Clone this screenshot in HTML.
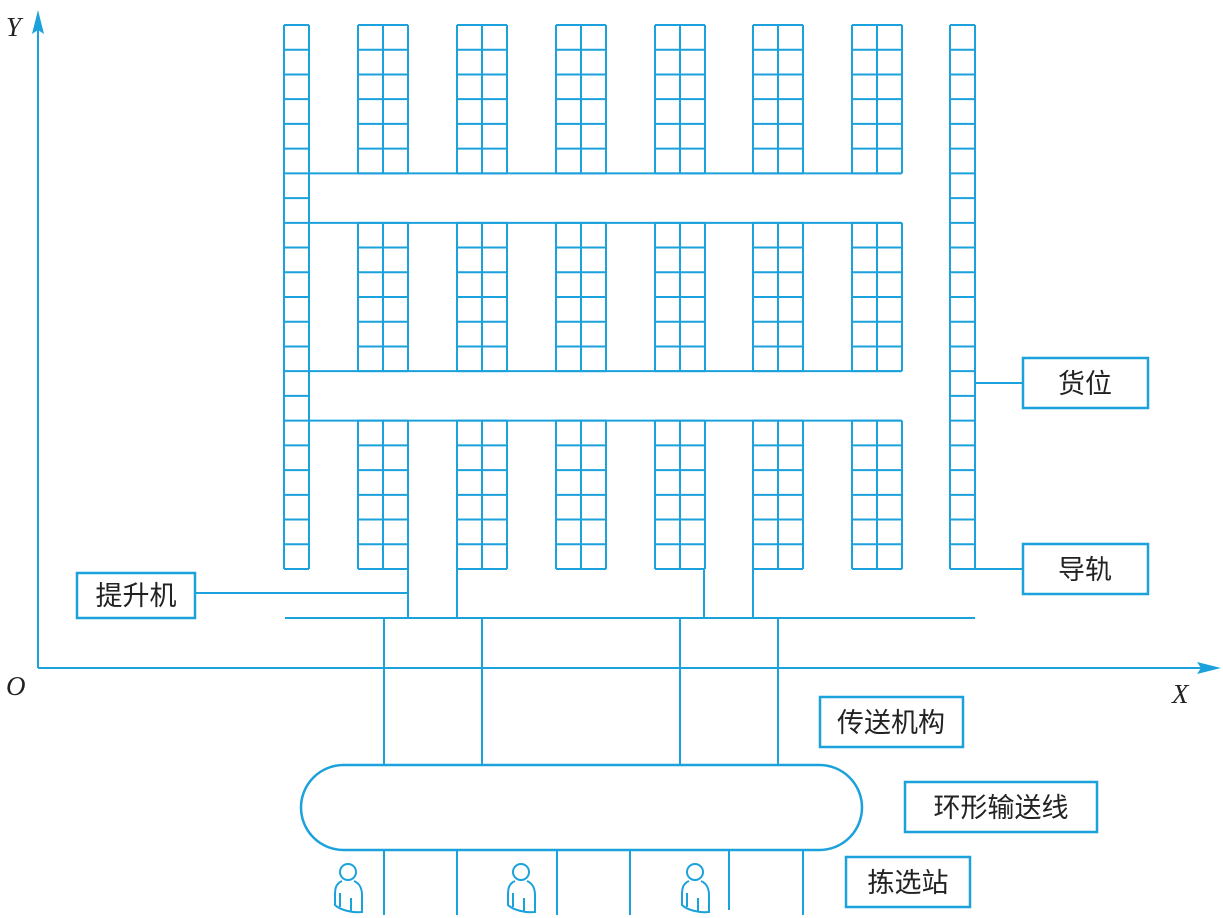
<!DOCTYPE html>
<html><head><meta charset="utf-8"><style>
html,body{margin:0;padding:0;background:#fff;}
svg{display:block;}
.cn{font-family:"Liberation Sans","Noto Sans CJK SC",sans-serif;}
.ax{font-family:"Liberation Serif",serif;font-style:italic;}
</style></head><body>
<svg id="s" width="1223" height="918" viewBox="0 0 1223 918" xmlns="http://www.w3.org/2000/svg">
<g id="g" stroke="#1ba1db" stroke-width="2" fill="none">
<line x1="38" y1="668" x2="38" y2="28"/>
<line x1="38" y1="668" x2="1205" y2="668"/>
<line x1="195" y1="593" x2="408" y2="593"/>
<line x1="408" y1="569" x2="408" y2="618"/>
<line x1="457" y1="569" x2="457" y2="618"/>
<line x1="704" y1="569" x2="704" y2="618"/>
<line x1="753" y1="569" x2="753" y2="618"/>
<line x1="285" y1="618" x2="975" y2="618"/>
<line x1="384" y1="618" x2="384" y2="765"/>
<line x1="482" y1="618" x2="482" y2="765"/>
<line x1="680" y1="618" x2="680" y2="765"/>
<line x1="778" y1="618" x2="778" y2="765"/>
<rect x="301" y="765" width="561" height="85" rx="42.5" ry="42.5" stroke-width="2.5"/>
<line x1="384" y1="850" x2="384" y2="915"/>
<line x1="457" y1="850" x2="457" y2="915"/>
<line x1="557" y1="850" x2="557" y2="915"/>
<line x1="630" y1="850" x2="630" y2="915"/>
<line x1="729" y1="850" x2="729" y2="910"/>
<line x1="803" y1="850" x2="803" y2="915"/>
<line x1="975" y1="383" x2="1023" y2="383"/>
<line x1="975" y1="569" x2="1023" y2="569"/>
<rect x="1023" y="358" width="125" height="50" stroke-width="2.5"/>
<rect x="1023" y="544" width="125" height="50" stroke-width="2.5"/>
<rect x="77" y="573" width="118" height="45" stroke-width="2.5"/>
<rect x="820" y="697" width="143" height="50" stroke-width="2.5"/>
<rect x="905" y="782" width="192" height="50" stroke-width="2.5"/>
<rect x="846" y="857" width="124" height="50" stroke-width="2.5"/>
</g>
<polygon points="38,10 32,34 38,30 44,34" fill="#1ba1db"/>
<polygon points="1221,668 1197,662 1201,668 1197,674" fill="#1ba1db"/>
<g class="ax" font-size="27" fill="#222">
<text x="6" y="36">Y</text>
<text x="6" y="695">O</text>
<text x="1172" y="703">X</text>
</g>
<g class="cn" font-size="27" fill="#222" text-anchor="middle">
<text x="1085" y="393">货位</text>
<text x="1085" y="579">导轨</text>
<text x="136" y="605">提升机</text>
<text x="891" y="732">传送机构</text>
<text x="1001" y="817">环形输送线</text>
<text x="908" y="892">拣选站</text>
</g>
</svg>
<script>
(function(){
var g=document.getElementById('g'),NS='http://www.w3.org/2000/svg';
function L(a,b,c,d){var l=document.createElementNS(NS,'line');l.setAttribute('x1',a);l.setAttribute('y1',b);l.setAttribute('x2',c);l.setAttribute('y2',d);g.appendChild(l);}
var top=25,bot=569,n=22,h=(bot-top)/n;
function col(x0,w,cells,y0,y1){var k=Math.round((y1-y0)/h);
 for(var i=0;i<=cells;i++)L(x0+i*w,y0,x0+i*w,y1);
 for(var j=0;j<=k;j++){var y=y0+j*h;L(x0,y,x0+cells*w,y);} }
col(284,25,1,top,bot);
col(950,25,1,top,bot);
var xs=[358,457,556,655,753,852];
var blocks=[[0,6],[8,14],[16,22]];
xs.forEach(function(x){blocks.forEach(function(b){col(x,25,2,top+b[0]*h,top+b[1]*h);});});
[6,8,14,16].forEach(function(r){L(309,top+r*h,901,top+r*h);});
[348,521,695].forEach(function(cx){
 var c=document.createElementNS(NS,'circle');c.setAttribute('cx',cx);c.setAttribute('cy',872);c.setAttribute('r',8);g.appendChild(c);
 var p=document.createElementNS(NS,'path');
 p.setAttribute('d','M'+(cx-6)+',881 C'+(cx-13)+',884 '+(cx-13)+',890 '+(cx-13)+',896 L'+(cx-13)+',905 C'+(cx-8)+',910 '+(cx+4)+',913 '+(cx+14)+',912 L'+(cx+14)+',895 C'+(cx+14)+',888 '+(cx+11)+',883 '+(cx+6)+',881');
 g.appendChild(p);
 L(cx-8,893,cx-8,907);L(cx+3,898,cx+3,912);
});
})();
</script>
</body></html>
